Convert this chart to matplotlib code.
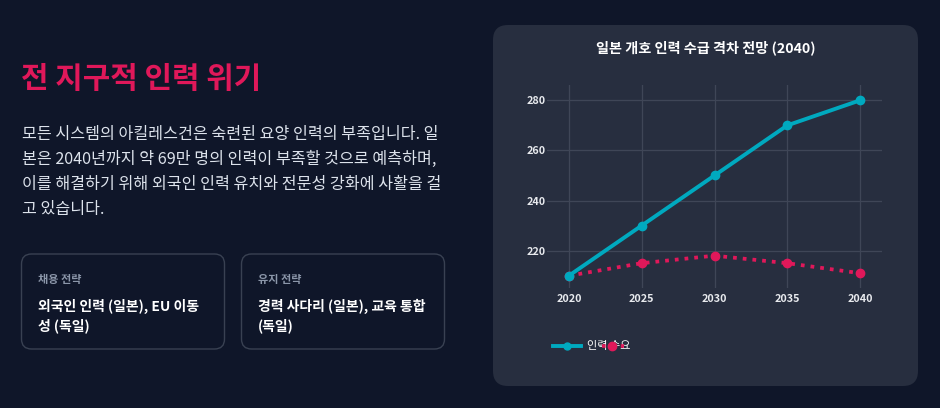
import matplotlib
matplotlib.use("Agg")
import matplotlib.pyplot as plt
from matplotlib.patches import FancyBboxPatch
from matplotlib.lines import Line2D

plt.rcParams['font.family'] = ['Noto Sans CJK KR', 'DejaVu Sans']

# ---- data ----
years = [2020, 2025, 2030, 2035, 2040]
demand = [210, 230, 250, 270, 280]
supply = [210, 215, 218, 215, 211]
y_ticks = [220, 240, 260, 280]
chart_title = "일본 개호 인력 수급 격차 전망 (2040)"
legend_label = "인력 수요"
heading = "전 지구적 인력 위기"
paragraph = [
    "모든 시스템의 아킬레스건은 숙련된 요양 인력의 부족입니다. 일",
    "본은 2040년까지 약 69만 명의 인력이 부족할 것으로 예측하며,",
    "이를 해결하기 위해 외국인 인력 유치와 전문성 강화에 사활을 걸",
    "고 있습니다.",
]
card_titles = ["채용 전략", "유지 전략"]
card_bodies = [["외국인 인력 (일본), EU 이동", "성 (독일)"],
               ["경력 사다리 (일본), 교육 통합", "(독일)"]]

BG = "#0f1629"
PANEL = "#272e3f"
PINK = "#e0185a"
CYAN = "#00a9bf"
W, H = 940, 408

fig = plt.figure(figsize=(W / 100, H / 100), dpi=100, facecolor=BG)
bg = fig.add_axes([0, 0, 1, 1])
bg.set_xlim(0, W)
bg.set_ylim(H, 0)
bg.axis("off")
bg.set_facecolor(BG)

# left side
bg.text(21, 79, heading, color=PINK, fontsize=21.5, fontweight="bold", va="center", ha="left")
for i, line in enumerate(paragraph):
    bg.text(22, 134 + i * 25.3, line, color="#dde3ec", fontsize=11.6, va="center", ha="left")

card_x = [21.5, 241.5]
for i in range(2):
    bg.add_patch(FancyBboxPatch((card_x[i], 254), 203, 95,
                                boxstyle="round,pad=0,rounding_size=10",
                                facecolor=BG, edgecolor="#394152", lw=1))
    bg.text(card_x[i] + 16, 279, card_titles[i], color="#8c97aa", fontsize=8,
            fontweight="bold", va="center", ha="left")
    for j, t in enumerate(card_bodies[i]):
        bg.text(card_x[i] + 16, 306 + j * 19.5, t, color="#ffffff", fontsize=10,
                fontweight="bold", va="center", ha="left")

# chart panel
bg.add_patch(FancyBboxPatch((493, 25), 425, 361,
                            boxstyle="round,pad=0,rounding_size=15",
                            facecolor=PANEL, edgecolor="none"))
bg.text(705.5, 48, chart_title, color="#ffffff", fontsize=10.2, fontweight="bold",
        va="center", ha="center")

ax = fig.add_axes([547 / W, (H - 288) / H, 335 / W, 203 / H])
ax.set_facecolor(PANEL)
ax.set_xlim(2018.5, 2041.5)
ax.set_ylim(205.1, 286.1)
ax.set_xticks(years)
ax.set_yticks(y_ticks)
ax.grid(True, color="#3f4657", lw=0.9)
ax.set_axisbelow(True)
for s in ax.spines.values():
    s.set_visible(False)
ax.tick_params(axis="x", length=0, colors="#e8eaee", labelsize=7.8, pad=4)
ax.tick_params(axis="y", length=0, colors="#e8eaee", labelsize=7.8, pad=1)
for lab in ax.get_xticklabels() + ax.get_yticklabels():
    lab.set_fontweight("bold")

ax.plot(years, supply, color=PINK, lw=2.7, linestyle=(0, (1, 1.6)),
        marker="o", markersize=6, zorder=3)
ax.plot(years, demand, color=CYAN, lw=2.8, marker="o", markersize=6, zorder=4,
        solid_capstyle="round")

# legend (overlapping as in reference)
bg.add_line(Line2D([553, 581], [346, 346], color=CYAN, lw=2.8))
bg.plot([567], [346], "o", color=CYAN, markersize=5)
bg.text(587, 346, legend_label, color="#ffffff", fontsize=8, va="center", ha="left", zorder=3)
bg.add_line(Line2D([602, 624], [345.5, 345.5], color=PINK, lw=2.6,
                   linestyle=(0, (1, 1.6)), zorder=5))
bg.plot([612], [345.5], "o", color=PINK, markersize=6, zorder=6)

fig.savefig("out.png", dpi=100, facecolor=BG)
